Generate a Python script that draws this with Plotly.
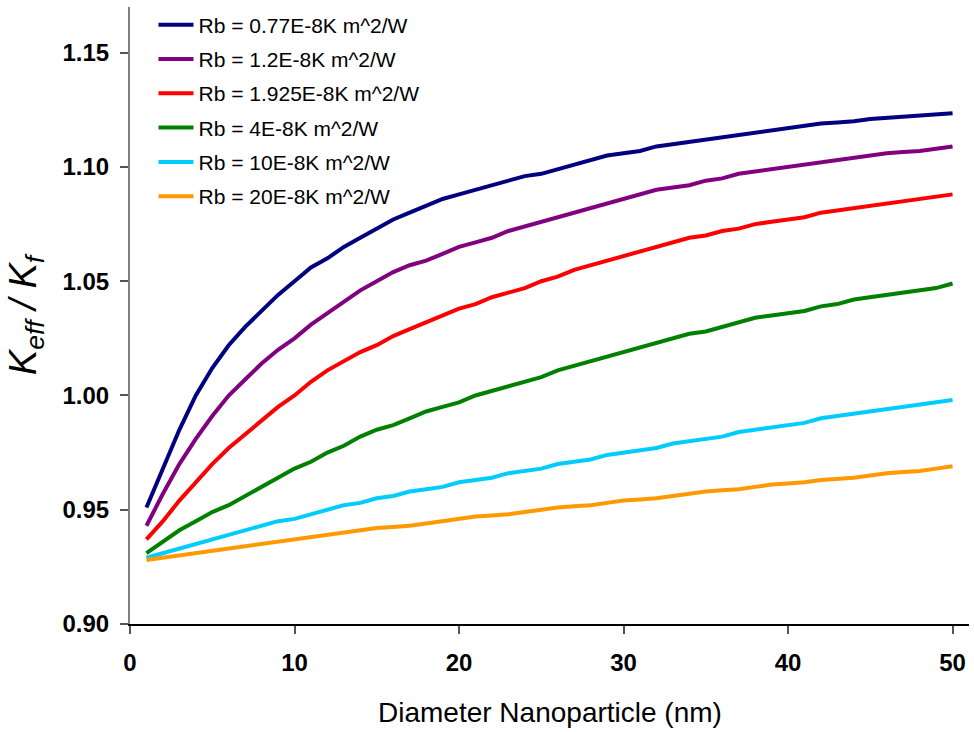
import plotly.graph_objects as go

# Nanoparticle diameter (nm)
diameter = list(range(1, 51))

# Effective conductivity ratio K_eff / K_f for each interfacial resistance Rb
rb_077 = [0.951, 0.968, 0.985, 1.000, 1.012, 1.022, 1.030, 1.037, 1.044, 1.050,
          1.056, 1.060, 1.065, 1.069, 1.073, 1.077, 1.080, 1.083, 1.086, 1.088,
          1.090, 1.092, 1.094, 1.096, 1.097, 1.099, 1.101, 1.103, 1.105, 1.106,
          1.107, 1.109, 1.110, 1.111, 1.112, 1.113, 1.114, 1.115, 1.116, 1.117,
          1.118, 1.119, 1.1195, 1.120, 1.121, 1.1215, 1.122, 1.1225, 1.123, 1.1235]
rb_12 = [0.943, 0.957, 0.970, 0.981, 0.991, 1.000, 1.007, 1.014, 1.020, 1.025,
         1.031, 1.036, 1.041, 1.046, 1.050, 1.054, 1.057, 1.059, 1.062, 1.065,
         1.067, 1.069, 1.072, 1.074, 1.076, 1.078, 1.080, 1.082, 1.084, 1.086,
         1.088, 1.090, 1.091, 1.092, 1.094, 1.095, 1.097, 1.098, 1.099, 1.100,
         1.101, 1.102, 1.103, 1.104, 1.105, 1.106, 1.1065, 1.107, 1.108, 1.109]
rb_1925 = [0.937, 0.945, 0.954, 0.962, 0.970, 0.977, 0.983, 0.989, 0.995, 1.000,
           1.006, 1.011, 1.015, 1.019, 1.022, 1.026, 1.029, 1.032, 1.035, 1.038,
           1.040, 1.043, 1.045, 1.047, 1.050, 1.052, 1.055, 1.057, 1.059, 1.061,
           1.063, 1.065, 1.067, 1.069, 1.070, 1.072, 1.073, 1.075, 1.076, 1.077,
           1.078, 1.080, 1.081, 1.082, 1.083, 1.084, 1.085, 1.086, 1.087, 1.088]
rb_4 = [0.931, 0.936, 0.941, 0.945, 0.949, 0.952, 0.956, 0.960, 0.964, 0.968,
        0.971, 0.975, 0.978, 0.982, 0.985, 0.987, 0.990, 0.993, 0.995, 0.997,
        1.000, 1.002, 1.004, 1.006, 1.008, 1.011, 1.013, 1.015, 1.017, 1.019,
        1.021, 1.023, 1.025, 1.027, 1.028, 1.030, 1.032, 1.034, 1.035, 1.036,
        1.037, 1.039, 1.040, 1.042, 1.043, 1.044, 1.045, 1.046, 1.047, 1.049]
rb_10 = [0.929, 0.931, 0.933, 0.935, 0.937, 0.939, 0.941, 0.943, 0.945, 0.946,
         0.948, 0.950, 0.952, 0.953, 0.955, 0.956, 0.958, 0.959, 0.960, 0.962,
         0.963, 0.964, 0.966, 0.967, 0.968, 0.970, 0.971, 0.972, 0.974, 0.975,
         0.976, 0.977, 0.979, 0.980, 0.981, 0.982, 0.984, 0.985, 0.986, 0.987,
         0.988, 0.990, 0.991, 0.992, 0.993, 0.994, 0.995, 0.996, 0.997, 0.998]
rb_20 = [0.928, 0.929, 0.930, 0.931, 0.932, 0.933, 0.934, 0.935, 0.936, 0.937,
         0.938, 0.939, 0.940, 0.941, 0.942, 0.9425, 0.943, 0.944, 0.945, 0.946,
         0.947, 0.9475, 0.948, 0.949, 0.950, 0.951, 0.9515, 0.952, 0.953, 0.954,
         0.9545, 0.955, 0.956, 0.957, 0.958, 0.9585, 0.959, 0.960, 0.961, 0.9615,
         0.962, 0.963, 0.9635, 0.964, 0.965, 0.966, 0.9665, 0.967, 0.968, 0.969]

series_names = ["Rb = 0.77E-8K m^2/W", "Rb = 1.2E-8K m^2/W", "Rb = 1.925E-8K m^2/W",
                "Rb = 4E-8K m^2/W", "Rb = 10E-8K m^2/W", "Rb = 20E-8K m^2/W"]
series_values = [rb_077, rb_12, rb_1925, rb_4, rb_10, rb_20]
series_colors = ["#000080", "#800080", "#FF0000", "#008000", "#00CCFF", "#FF9900"]

y_ticks = [0.90, 0.95, 1.00, 1.05, 1.10, 1.15]
x_ticks = [0, 10, 20, 30, 40, 50]

FONT = "Liberation Sans, Arial, sans-serif"

fig = go.Figure()
for i, (name, vals, col) in enumerate(zip(series_names, series_values, series_colors)):
    fig.add_trace(go.Scatter(
        x=diameter, y=vals, mode="lines", name=name,
        legendgroup=f"g{i}",
        line=dict(color=col, width=4),
    ))

fig.update_layout(
    width=974, height=732,
    margin=dict(l=130, r=5, t=5, b=108),
    paper_bgcolor="white", plot_bgcolor="white",
    font=dict(family=FONT, color="black"),
    legend=dict(
        x=0.028, y=1.004, xanchor="left", yanchor="top",
        bgcolor="rgba(0,0,0,0)", borderwidth=0,
        font=dict(family=FONT, size=21, color="black"),
        tracegroupgap=4, itemwidth=35,
    ),
    xaxis=dict(
        range=[0, 51], tickvals=x_ticks, ticktext=[str(v) for v in x_ticks],
        showgrid=False, zeroline=False,
        showline=True, linecolor="black", linewidth=1.5,
        ticks="outside", ticklen=8, tickcolor="#555555", tickwidth=1.5,
        ticklabelstandoff=8,
        tickfont=dict(family=FONT, size=24, weight="bold"),
    ),
    yaxis=dict(
        range=[0.90, 1.17], tickvals=y_ticks, ticktext=[f"{v:.2f}" for v in y_ticks],
        showgrid=False, zeroline=False,
        showline=True, linecolor="#808080", linewidth=2,
        ticks="outside", ticklen=8, tickcolor="#555555", tickwidth=1.5,
        ticklabelstandoff=6,
        tickfont=dict(family=FONT, size=24, weight="bold"),
        title=dict(text="<i>K<sub>eff</sub> / K<sub>f</sub></i>", font=dict(family=FONT, size=38), standoff=14),
    ),
    annotations=[dict(
        text="Diameter Nanoparticle (nm)", showarrow=False,
        xref="paper", yref="paper", x=0.5, y=-0.143,
        xanchor="center", yanchor="middle",
        font=dict(family=FONT, size=28, color="black"),
    )],
)

fig.write_html("out.html")
